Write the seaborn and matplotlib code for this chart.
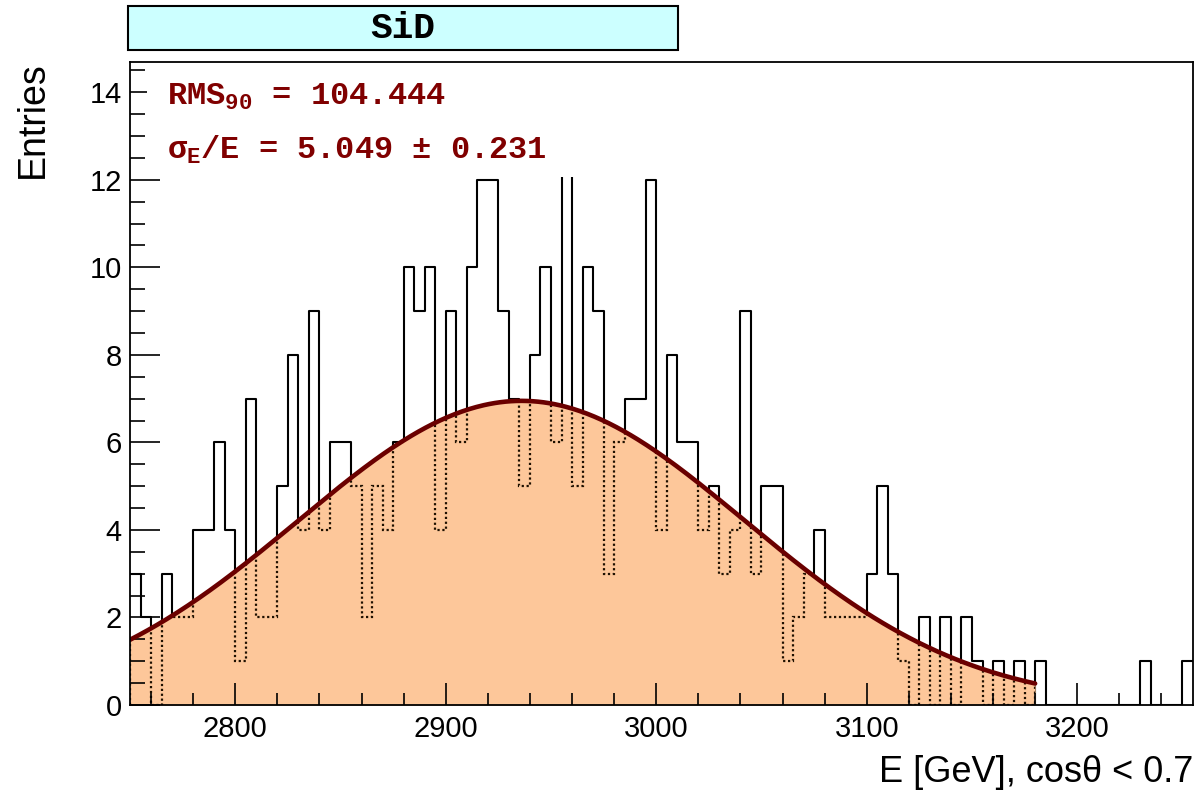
import numpy as np
import pandas as pd
import matplotlib
matplotlib.use("Agg")
import matplotlib.pyplot as plt
import seaborn as sns
from matplotlib.patches import Rectangle
from matplotlib.ticker import MultipleLocator

# ---------------- data ----------------
bin_low = 2750.0
bin_width = 5.0
counts = [3, 2, 0, 3, 2, 2, 4, 4, 6, 4,          # 2750-2795
          1, 7, 2, 2, 5, 8, 4, 9, 4, 6,          # 2800-2845
          6, 5, 2, 5, 4, 6, 10, 9, 10, 4,        # 2850-2895
          9, 6, 10, 12, 12, 9, 7, 5, 8, 10,      # 2900-2945
          6, 14, 5, 10, 9, 3, 6, 7, 7, 12,       # 2950-2995
          4, 8, 6, 6, 4, 5, 3, 4, 9, 3,          # 3000-3045
          5, 5, 1, 2, 3, 4, 2, 2, 2, 2,          # 3050-3095
          3, 5, 3, 1, 0, 2, 0, 2, 0, 2,          # 3100-3145
          1, 0, 1, 0, 1, 0, 1, 0, 0, 0,          # 3150-3195
          0, 0, 0, 0, 0, 0, 1, 0, 0, 0,          # 3200-3245
          1]                                     # 3250

fit_amp = 6.95
fit_mean = 2936.0
fit_sigma = 106.0
fit_range = [2750.0, 3180.0]

x_major = [2800, 2900, 3000, 3100, 3200]
y_major = [0, 2, 4, 6, 8, 10, 12, 14]
x_limits = [2750, 3255]
y_limits = [0, 14.7]

title_text = "SiD"
line1_text = "RMS$_{90}$ = 104.444"
line2_text = "$σ_{E}$/E = 5.049 ± 0.231"
xlabel_text = "E [GeV], cosθ < 0.7"
ylabel_text = "Entries"

# ---------------- style ----------------
sns.set_style("white")
plt.rcParams["font.family"] = ["Liberation Sans", "DejaVu Sans"]
plt.rcParams["mathtext.fontset"] = "custom"
plt.rcParams["mathtext.rm"] = "Liberation Mono:bold"
plt.rcParams["mathtext.it"] = "Liberation Mono:bold"
plt.rcParams["mathtext.bf"] = "Liberation Mono:bold"
plt.rcParams["text.color"] = "black"
plt.rcParams["axes.labelcolor"] = "black"

W, H = 1196, 793
fig = plt.figure(figsize=(W / 100, H / 100), dpi=100)
ax_l, ax_r, ax_t, ax_b = 130, 1193, 61.7, 705
ax = fig.add_axes([ax_l / W, 1 - ax_b / H, (ax_r - ax_l) / W, (ax_b - ax_t) / H])
ax.set_axisbelow(False)

edges = bin_low + bin_width * np.arange(len(counts) + 1)
centers = edges[:-1] + bin_width / 2
counts_arr = np.array(counts, dtype=float)
df = pd.DataFrame({"E": centers, "n": counts_arr})

# histogram outline (solid)
sns.histplot(data=df, x="E", weights="n", binwidth=bin_width,
             binrange=(edges[0], edges[-1]), element="step",
             fill=False, color="black", linewidth=1.5, ax=ax, zorder=1)

# fitted gaussian & filled area
xf = np.linspace(fit_range[0], fit_range[1], 500)
yf = fit_amp * np.exp(-0.5 * ((xf - fit_mean) / fit_sigma) ** 2)
fill = ax.fill_between(xf, 0, yf, color="#fdc79a", linewidth=0, zorder=1.5)

# histogram outline visible through the fill pattern (dotted)
dotted = ax.stairs(counts_arr, edges, color="#1e1000", linewidth=1.6,
                   linestyle=(0, (1, 1.2)), zorder=1.8)
dotted.set_clip_path(fill.get_paths()[0], ax.transData)

sns.lineplot(x=xf, y=yf, color="#6a0000", linewidth=3.3, ax=ax, zorder=4,
             solid_capstyle="round")

# white stats box hiding histogram behind text
ax.add_patch(Rectangle((0.016, 0.8215), 0.46, 0.176, transform=ax.transAxes,
                       facecolor="white", edgecolor="none", zorder=5))
ax.text(0.035, 0.933, line1_text, transform=ax.transAxes, color="#800000",
        fontsize=23, family="Liberation Mono", weight="bold",
        va="baseline", ha="left", zorder=6)
ax.text(0.035, 0.849, line2_text, transform=ax.transAxes, color="#800000",
        fontsize=23, family="Liberation Mono", weight="bold",
        va="baseline", ha="left", zorder=6)

# axes styling
ax.set_xlim(x_limits)
ax.set_ylim(y_limits)
ax.set_xticks(x_major)
ax.set_yticks(y_major)
ax.xaxis.set_minor_locator(MultipleLocator(20))
ax.yaxis.set_minor_locator(MultipleLocator(0.5))
ax.tick_params(axis="x", which="both", bottom=True, top=False, direction="in",
               color="black", labelcolor="black")
ax.tick_params(axis="y", which="both", left=True, right=False, direction="in",
               color="black", labelcolor="black")
ax.tick_params(axis="x", which="major", length=15.8, width=1.2, labelsize=21, pad=7)
ax.tick_params(axis="x", which="minor", length=8.4, width=1.2)
ax.tick_params(axis="y", which="major", length=21.6, width=1.2, labelsize=21, pad=6)
ax.tick_params(axis="y", which="minor", length=10.8, width=1.2)
for s in ax.spines.values():
    s.set_linewidth(1.3)
    s.set_color("black")
    s.set_zorder(6)

ax.set_xlabel(xlabel_text, fontsize=26, loc="right")
ax.xaxis.set_label_coords(1.0, -0.078)
ax.set_ylabel(ylabel_text, fontsize=27, loc="top")
ax.yaxis.set_label_coords(-0.074, 1.0)

# title box
fig.patches.append(Rectangle((128 / W, 1 - 50 / H), 550 / W, 44 / H,
                             transform=fig.transFigure, facecolor="#ccffff",
                             edgecolor="black", linewidth=1.5, zorder=1))
fig.text(403 / W, 1 - 28 / H, title_text, ha="center", va="center",
         fontsize=26, family="Liberation Mono", weight="bold", zorder=2)

fig.savefig("out.png", dpi=100)
